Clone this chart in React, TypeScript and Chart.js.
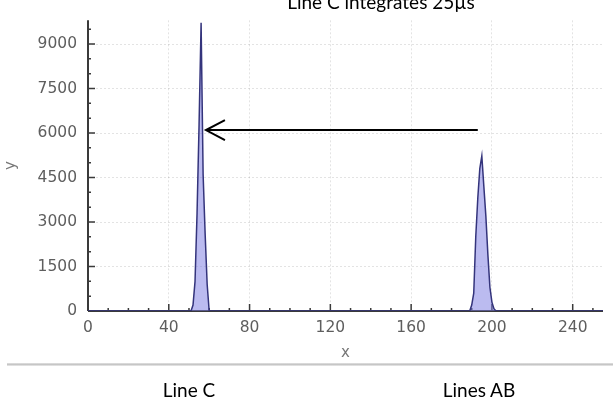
import React, { useEffect, useRef } from 'react';
import { Chart, registerables } from 'chart.js';

Chart.register(...registerables);

// Sampled signal (x = channel, y = counts)
const sampleX = [0, 51, 52, 53, 54, 55, 56, 57, 58, 59, 60, 189, 190, 191, 192, 193, 194, 195, 196, 197, 198, 199, 200, 201, 202, 255];
const sampleY = [0, 0, 200, 1000, 3300, 6300, 9720, 4600, 2600, 900, 0, 0, 200, 600, 2500, 3800, 4800, 5230, 4200, 3200, 1900, 800, 300, 80, 0, 0];

// Axis ticks
const xTicks = [0, 40, 80, 120, 160, 200, 240];
const yTicks = [0, 1500, 3000, 4500, 6000, 7500, 9000];
const xMinorStep = 10;
const yMinorStep = 500;
const xRange = [0, 255];
const yRange = [0, 9800];

// Annotation arrow (data units): from -> to (tip)
const arrowFrom = [193, 6100];
const arrowTo = [58.4, 6100];

const titleText = 'Line C integrates 25µs';
const leftCaption = 'Line C';
const rightCaption = 'Lines AB';

const tickFont = { family: '"DejaVu Sans", Verdana, sans-serif', size: 15.5 };
const tickColor = '#5e5e5e';

const axesArrowPlugin = {
  id: 'axesArrow',
  beforeDatasetsDraw(chart: any) {
    const { ctx, chartArea } = chart;
    const xs = chart.scales.x;
    const ys = chart.scales.y;
    const x0 = xs.getPixelForValue(xRange[0]);
    const y0 = ys.getPixelForValue(0);
    ctx.save();
    ctx.strokeStyle = '#3a3a3a';
    ctx.lineWidth = 2;
    ctx.beginPath();
    ctx.moveTo(chartArea.left, y0);
    ctx.lineTo(chartArea.right, y0);
    ctx.moveTo(x0, y0);
    ctx.lineTo(x0, chartArea.top);
    ctx.stroke();
    ctx.lineWidth = 1.5;
    ctx.beginPath();
    for (let v = xRange[0]; v <= xRange[1]; v += xMinorStep) {
      const px = xs.getPixelForValue(v);
      const major = xTicks.includes(v);
      ctx.moveTo(px, y0);
      ctx.lineTo(px, y0 - (major ? 7 : 3));
    }
    for (let v = yRange[0]; v <= yRange[1]; v += yMinorStep) {
      const py = ys.getPixelForValue(v);
      const major = yTicks.includes(v);
      ctx.moveTo(x0, py);
      ctx.lineTo(x0 + (major ? 7 : 3), py);
    }
    ctx.stroke();
    ctx.restore();
  },
  afterDatasetsDraw(chart: any) {
    const { ctx } = chart;
    const xs = chart.scales.x;
    const ys = chart.scales.y;
    const sx = xs.getPixelForValue(arrowFrom[0]);
    const sy = ys.getPixelForValue(arrowFrom[1]);
    const tx = xs.getPixelForValue(arrowTo[0]);
    const ty = ys.getPixelForValue(arrowTo[1]);
    ctx.save();
    ctx.strokeStyle = '#000';
    ctx.lineWidth = 2;
    ctx.beginPath();
    ctx.moveTo(sx, sy);
    ctx.lineTo(tx, ty);
    ctx.moveTo(tx + 19, ty - 10);
    ctx.lineTo(tx, ty);
    ctx.lineTo(tx + 19, ty + 10);
    ctx.stroke();
    ctx.restore();
  },
};

export default function App() {
  const ref = useRef<HTMLCanvasElement>(null);
  useEffect(() => {
    const chart = new Chart(ref.current as HTMLCanvasElement, {
      type: 'line',
      data: {
        datasets: [
          {
            data: sampleX.map((x, i) => ({ x, y: sampleY[i] })),
            borderColor: '#34347c',
            borderWidth: 1.5,
            backgroundColor: 'rgba(120,120,225,0.5)',
            fill: 'origin',
            pointRadius: 0,
            tension: 0,
          },
        ],
      },
      options: {
        responsive: false,
        animation: false,
        devicePixelRatio: 1,
        layout: { padding: { left: 0, top: 13, right: 10, bottom: 0 } },
        plugins: { legend: { display: false }, tooltip: { enabled: false } },
        scales: {
          x: {
            type: 'linear',
            min: xRange[0],
            max: xRange[1],
            afterBuildTicks: (s: any) => {
              s.ticks = xTicks.map((v) => ({ value: v }));
            },
            afterFit: (s: any) => {
              s.height = 93;
            },
            grid: { color: 'rgba(0,0,0,0.11)', drawTicks: false, lineWidth: 1 },
            border: { display: false, dash: [2, 2] },
            ticks: {
              font: tickFont,
              color: tickColor,
              padding: 8,
              autoSkip: false,
              maxRotation: 0,
              callback: (v: any) => String(v),
            },
            title: {
              display: true,
              text: 'x',
              font: { family: '"DejaVu Sans", Verdana, sans-serif', size: 15 },
              color: '#777',
              padding: { top: 0, bottom: 42 },
            },
          },
          y: {
            type: 'linear',
            min: yRange[0],
            max: yRange[1],
            afterBuildTicks: (s: any) => {
              s.ticks = yTicks.map((v) => ({ value: v }));
            },
            afterFit: (s: any) => {
              s.width = 88;
            },
            grid: { color: 'rgba(0,0,0,0.11)', drawTicks: false, lineWidth: 1 },
            border: { display: false, dash: [2, 2] },
            ticks: {
              font: tickFont,
              color: tickColor,
              padding: 11,
              autoSkip: false,
              callback: (v: any) => String(v),
            },
            title: {
              display: true,
              text: 'y',
              font: { family: '"DejaVu Sans", Verdana, sans-serif', size: 15 },
              color: '#777',
              padding: { top: 2, bottom: 0 },
            },
          },
        },
      },
      plugins: [axesArrowPlugin],
    } as any);
    return () => chart.destroy();
  }, []);

  const textStyle: React.CSSProperties = {
    position: 'absolute',
    transform: 'translateX(-50%)',
    whiteSpace: 'nowrap',
    fontFamily: 'Lato, sans-serif',
    fontSize: 19,
    lineHeight: 'normal',
    color: '#000',
  };

  return (
    <div
      style={{
        position: 'absolute',
        left: 0,
        top: 0,
        width: 613,
        height: 404,
        overflow: 'hidden',
        background: '#fff',
      }}
    >
      <canvas
        ref={ref}
        width={613}
        height={404}
        style={{ position: 'absolute', left: 0, top: 0, width: 613, height: 404 }}
      />
      <div
        style={{
          position: 'absolute',
          left: 7,
          top: 363,
          width: 606,
          height: 3,
          background: 'linear-gradient(#e2e2e2, #c6c6c6, #ececec)',
        }}
      />
      <div style={{ ...textStyle, left: 381, top: -10 }}>{titleText}</div>
      <div style={{ ...textStyle, left: 189, top: 378 }}>{leftCaption}</div>
      <div style={{ ...textStyle, left: 479, top: 378 }}>{rightCaption}</div>
    </div>
  );
}
